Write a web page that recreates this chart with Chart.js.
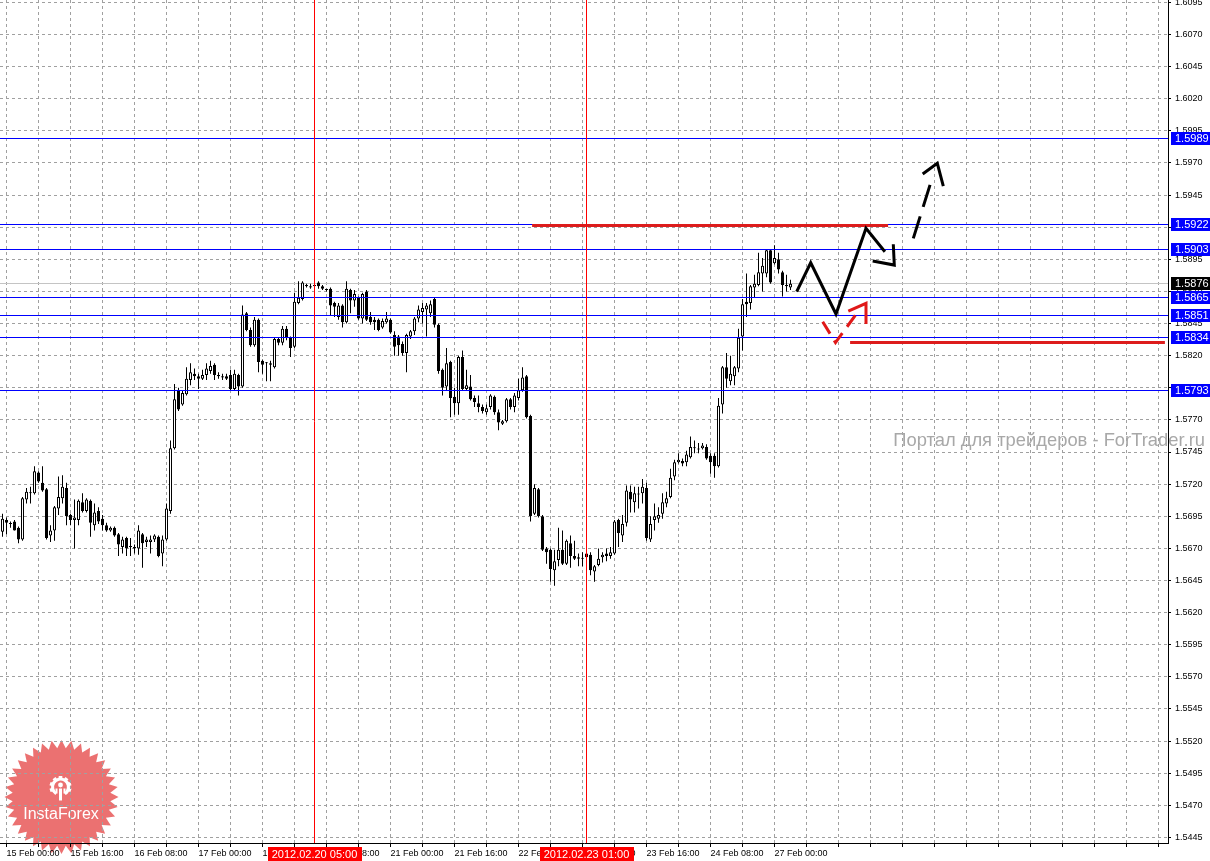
<!DOCTYPE html>
<html>
<head>
<meta charset="utf-8">
<script src="https://cdn.jsdelivr.net/npm/chart.js@4/dist/chart.umd.min.js"></script>
<style>
html,body{margin:0;padding:0;background:#fff;overflow:hidden}
canvas{display:block}
</style>
</head>
<body>
<canvas id="c" width="1210" height="861"></canvas>
<script>
// ---------------- DATA ----------------
// H1 bars, bar index 0 = 15 Feb 00:00 (weekend hours skipped); first bar is index -1
const firstBar = -1;
const openP = [
1.5683,1.5692,1.5689,1.5691,1.5686,1.5677,1.5708,1.5713,1.5713,1.5729,
1.5721,1.5716,1.5680,1.5684,1.5701,1.5709,1.5717,1.5696,1.5692,1.5692,
1.5706,1.5699,1.5707,1.5688,1.5699,1.5693,1.5688,1.5684,1.5686,1.5681,
1.5671,1.5678,1.5671,1.5671,1.5670,1.5681,1.5675,1.5675,1.5677,1.5679,
1.5666,1.5677,1.5699,1.5748,1.5793,1.5782,1.5790,1.5801,1.5806,1.5804,
1.5802,1.5805,1.5808,1.5813,1.5805,1.5804,1.5804,1.5805,1.5794,1.5805,
1.5796,1.5853,1.5840,1.5828,1.5848,1.5816,1.5814,1.5814,1.5811,1.5833,
1.5830,1.5841,1.5834,1.5827,1.5861,1.5864,1.5874,1.5874,1.5874,1.5877,
1.5874,1.5871,1.5872,1.5861,1.5850,1.5859,1.5846,1.5871,1.5863,1.5865,
1.5849,1.5870,1.5850,1.5848,1.5848,1.5842,1.5846,1.5848,1.5836,1.5835,
1.5829,1.5822,1.5835,1.5839,1.5849,1.5854,1.5856,1.5853,1.5864,1.5844,
1.5809,1.5796,1.5815,1.5788,1.5783,1.5819,1.5794,1.5796,1.5787,1.5783,
1.5780,1.5776,1.5780,1.5788,1.5776,1.5767,1.5769,1.5786,1.5780,1.5787,
1.5793,1.5804,1.5773,1.5697,1.5716,1.5695,1.5670,1.5669,1.5653,1.5661,
1.5669,1.5658,1.5674,1.5664,1.5662,1.5662,1.5663,1.5665,1.5652,1.5657,
1.5663,1.5666,1.5664,1.5666,1.5692,1.5680,1.5690,1.5714,1.5706,1.5712,
1.5713,1.5717,1.5677,1.5692,1.5693,1.5697,1.5705,1.5710,1.5726,1.5737,
1.5738,1.5737,1.5741,1.5748,1.5747,1.5748,1.5749,1.5742,1.5742,1.5734,
1.5782,1.5811,1.5800,1.5804,1.5810,1.5835,1.5862,1.5861,1.5873,1.5875,
1.5884,1.5884,1.5902,1.5892,1.5895,1.5885,1.5875,1.5873];
const highP = [
1.5697,1.5694,1.5691,1.5692,1.5687,1.5710,1.5717,1.5718,1.5734,1.5730,
1.5734,1.5717,1.5688,1.5703,1.5726,1.5727,1.5721,1.5697,1.5708,1.5708,
1.5713,1.5709,1.5708,1.5705,1.5702,1.5696,1.5690,1.5687,1.5687,1.5682,
1.5679,1.5679,1.5678,1.5673,1.5688,1.5682,1.5679,1.5680,1.5681,1.5680,
1.5680,1.5705,1.5754,1.5798,1.5795,1.5793,1.5811,1.5814,1.5810,1.5806,
1.5809,1.5814,1.5816,1.5814,1.5807,1.5806,1.5806,1.5809,1.5809,1.5806,
1.5859,1.5854,1.5842,1.5850,1.5849,1.5817,1.5815,1.5816,1.5834,1.5834,
1.5843,1.5843,1.5835,1.5869,1.5878,1.5878,1.5876,1.5876,1.5877,1.5878,
1.5875,1.5872,1.5873,1.5862,1.5861,1.5860,1.5878,1.5872,1.5871,1.5866,
1.5869,1.5871,1.5854,1.5850,1.5849,1.5849,1.5854,1.5849,1.5839,1.5836,
1.5831,1.5837,1.5840,1.5850,1.5859,1.5861,1.5861,1.5863,1.5865,1.5845,
1.5810,1.5826,1.5816,1.5795,1.5820,1.5824,1.5809,1.5805,1.5789,1.5789,
1.5782,1.5782,1.5790,1.5789,1.5778,1.5770,1.5787,1.5787,1.5791,1.5802,
1.5811,1.5805,1.5774,1.5720,1.5717,1.5696,1.5671,1.5670,1.5669,1.5686,
1.5684,1.5677,1.5680,1.5676,1.5666,1.5667,1.5669,1.5667,1.5657,1.5670,
1.5667,1.5670,1.5671,1.5692,1.5693,1.5696,1.5719,1.5719,1.5718,1.5718,
1.5724,1.5721,1.5695,1.5705,1.5702,1.5713,1.5714,1.5732,1.5739,1.5744,
1.5740,1.5746,1.5757,1.5754,1.5752,1.5752,1.5751,1.5744,1.5744,1.5787,
1.5812,1.5822,1.5820,1.5812,1.5841,1.5864,1.5884,1.5875,1.5883,1.5900,
1.5896,1.5903,1.5903,1.5906,1.5900,1.5886,1.5883,1.5879];
const lowP = [
1.5679,1.5681,1.5686,1.5684,1.5674,1.5676,1.5705,1.5705,1.5712,1.5721,
1.5714,1.5677,1.5675,1.5676,1.5696,1.5705,1.5688,1.5688,1.5670,1.5688,
1.5698,1.5698,1.5679,1.5684,1.5689,1.5684,1.5683,1.5683,1.5679,1.5664,
1.5666,1.5664,1.5664,1.5666,1.5665,1.5655,1.5671,1.5666,1.5675,1.5663,
1.5656,1.5676,1.5697,1.5747,1.5777,1.5781,1.5789,1.5797,1.5801,1.5794,
1.5801,1.5801,1.5806,1.5801,1.5802,1.5801,1.5801,1.5793,1.5793,1.5789,
1.5795,1.5839,1.5827,1.5827,1.5807,1.5806,1.5800,1.5800,1.5810,1.5828,
1.5828,1.5832,1.5819,1.5826,1.5860,1.5863,1.5873,1.5872,1.5873,1.5872,
1.5871,1.5870,1.5851,1.5850,1.5848,1.5842,1.5845,1.5853,1.5858,1.5848,
1.5845,1.5847,1.5844,1.5840,1.5839,1.5841,1.5845,1.5837,1.5820,1.5820,
1.5820,1.5807,1.5833,1.5836,1.5846,1.5845,1.5835,1.5850,1.5842,1.5806,
1.5789,1.5793,1.5772,1.5774,1.5774,1.5793,1.5793,1.5785,1.5780,1.5776,
1.5775,1.5774,1.5778,1.5774,1.5762,1.5766,1.5768,1.5778,1.5776,1.5785,
1.5792,1.5771,1.5691,1.5696,1.5694,1.5668,1.5658,1.5644,1.5641,1.5656,
1.5657,1.5657,1.5655,1.5661,1.5656,1.5656,1.5661,1.5649,1.5644,1.5656,
1.5659,1.5660,1.5662,1.5665,1.5671,1.5675,1.5687,1.5698,1.5698,1.5701,
1.5705,1.5676,1.5675,1.5684,1.5690,1.5693,1.5702,1.5709,1.5723,1.5736,
1.5734,1.5734,1.5740,1.5744,1.5744,1.5747,1.5739,1.5728,1.5725,1.5733,
1.5775,1.5795,1.5797,1.5797,1.5807,1.5824,1.5850,1.5856,1.5865,1.5874,
1.5870,1.5881,1.5876,1.5891,1.5884,1.5866,1.5870,1.5871];
const closeP = [
1.5693,1.5690,1.5689,1.5684,1.5677,1.5709,1.5714,1.5713,1.5730,1.5722,
1.5715,1.5678,1.5684,1.5702,1.5710,1.5718,1.5695,1.5692,1.5694,1.5707,
1.5699,1.5708,1.5690,1.5698,1.5691,1.5688,1.5684,1.5686,1.5680,1.5673,
1.5677,1.5670,1.5671,1.5670,1.5684,1.5674,1.5677,1.5677,1.5680,1.5664,
1.5677,1.5701,1.5748,1.5786,1.5778,1.5791,1.5802,1.5807,1.5804,1.5802,
1.5805,1.5810,1.5812,1.5805,1.5804,1.5803,1.5802,1.5794,1.5806,1.5796,
1.5852,1.5840,1.5828,1.5848,1.5815,1.5813,1.5814,1.5813,1.5833,1.5830,
1.5841,1.5834,1.5826,1.5862,1.5865,1.5877,1.5875,1.5873,1.5875,1.5874,
1.5872,1.5871,1.5859,1.5858,1.5859,1.5846,1.5872,1.5863,1.5868,1.5849,
1.5868,1.5848,1.5846,1.5846,1.5840,1.5847,1.5849,1.5838,1.5827,1.5828,
1.5822,1.5836,1.5839,1.5849,1.5856,1.5857,1.5859,1.5860,1.5844,1.5808,
1.5795,1.5814,1.5787,1.5783,1.5819,1.5794,1.5797,1.5786,1.5784,1.5780,
1.5777,1.5779,1.5789,1.5776,1.5768,1.5769,1.5786,1.5780,1.5789,1.5793,
1.5803,1.5772,1.5695,1.5717,1.5695,1.5669,1.5667,1.5654,1.5660,1.5669,
1.5658,1.5676,1.5664,1.5662,1.5663,1.5662,1.5666,1.5653,1.5656,1.5662,
1.5665,1.5664,1.5667,1.5691,1.5682,1.5689,1.5715,1.5708,1.5713,1.5712,
1.5718,1.5678,1.5689,1.5695,1.5696,1.5706,1.5709,1.5725,1.5737,1.5739,
1.5736,1.5743,1.5749,1.5748,1.5747,1.5750,1.5740,1.5737,1.5734,1.5781,
1.5811,1.5802,1.5806,1.5811,1.5834,1.5860,1.5860,1.5874,1.5876,1.5885,
1.5890,1.5902,1.5877,1.5896,1.5887,1.5875,1.5874,1.5876];

// axis ticks / labels
const yTicks = [1.5445,1.5470,1.5495,1.5520,1.5545,1.5570,1.5595,1.5620,1.5645,1.5670,1.5695,1.5720,1.5745,
  1.5770,1.5795,1.5820,1.5845,1.5870,1.5895,1.5920,1.5945,1.5970,1.5995,1.6020,1.6045,1.6070,1.6095];
const xGridBars = [0,8,16,24,32,40,48,56,64,72,80,88,96,104,112,120,128,136,144,152,160,168,176,184,192,
  200,208,216,224,232,240,248,256,264,272,280,288];
const xLabelBars = [0,16,32,48,64,80,96,112,128,144,160,176,192];
const xLabelText = ['15 Feb 00:00','15 Feb 16:00','16 Feb 08:00','17 Feb 00:00','17 Feb 16:00','20 Feb 08:00',
  '21 Feb 00:00','21 Feb 16:00','22 Feb 08:00','23 Feb 00:00','23 Feb 16:00','24 Feb 08:00','27 Feb 00:00'];

// horizontal levels (blue), bid price
const levels = [1.5989, 1.5922, 1.5903, 1.5865, 1.5851, 1.5834, 1.5793];
const bidPrice = 1.5876;

// vertical time markers
const markerBars = [77, 145];
const markerText = ['2012.02.20 05:00', '2012.02.23 01:00'];

// thick red resistance / support segments
const redSeg1X = [131.4, 220.4], redSeg1Y = [1.5921, 1.5921];
const redSeg2X = [210.9, 289.6], redSeg2Y = [1.5830, 1.5830];

// forecast paths (bar index, price)
const zigX = [197.55, 201.05, 207.375, 214.875, 219.6];
const zigY = [1.58698, 1.58923, 1.58524, 1.59191, 1.59009];
const zigHeadX = [216.55, 221.95, 221.7];
const zigHeadY = [1.58937, 1.58905, 1.59067];
const upX = [226.7, 231.5];
const upY = [1.59113, 1.59590];
const upHeadX = [229.05, 232.7, 234.2];
const upHeadY = [1.59614, 1.59697, 1.59520];
const redVX = [204.05, 207.25, 213.375];
const redVY = [1.58464, 1.58302, 1.58563];
const redHeadX = [210.45, 214.875, 214.875];
const redHeadY = [1.58547, 1.58607, 1.58446];

// ---------------- CHART ----------------
const Y_MIN = 1.54407, Y_MAX = 1.60968;
const X_MIN = -1.625, X_MAX = 290.375;

const idx = openP.map((_, k) => firstBar + k);
const bodies = idx.map((x, k) => ({x, y: [openP[k], closeP[k]]}));
const wicks = idx.map((x, k) => ({x, y: [lowP[k], highP[k]]}));
const bodyFill = idx.map((_, k) => closeP[k] > openP[k] ? '#ffffff' : '#000000');

const pts = (xs, ys) => xs.map((x, k) => ({x, y: ys[k]}));
function lineDs(data, color, width, dash) {
  return {type: 'line', data, borderColor: color, borderWidth: width, borderDash: dash || [],
    pointRadius: 0, pointHoverRadius: 0, pointHitRadius: 0, fill: false, tension: 0, order: 0,
    borderCapStyle: 'butt', borderJoinStyle: 'miter'};
}
function hLine(xs, v, color, width) {
  return Object.assign(lineDs(pts(xs, [v, v]), color, width), {snapY: v});
}

const datasets = [];
// annotations (on top)
datasets.push(lineDs(pts(zigX, zigY), '#000000', 3));
datasets.push(lineDs(pts(zigHeadX, zigHeadY), '#000000', 3));
datasets.push(lineDs(pts(upX, upY), '#000000', 3, [23, 10]));
datasets.push(lineDs(pts(upHeadX, upHeadY), '#000000', 3));
datasets.push(lineDs(pts(redVX, redVY), '#e01818', 3, [14, 8]));
datasets.push(lineDs(pts(redHeadX, redHeadY), '#e01818', 3));
datasets.push(hLine(redSeg1X, redSeg1Y[0], '#dd1c1c', 3));
datasets.push(hLine(redSeg2X, redSeg2Y[0], '#dd1c1c', 3));
markerBars.forEach(b => datasets.push(lineDs(pts([b, b], [Y_MIN, Y_MAX]), '#ff0000', 1)));
levels.forEach(v => datasets.push(hLine([X_MIN, X_MAX], v, '#0000ff', 1)));
datasets.push(Object.assign(hLine([X_MIN, X_MAX], bidPrice, '#c4c4c4', 1), {order: 3}));
// candles
datasets.push({type: 'bar', data: bodies, backgroundColor: bodyFill, borderColor: '#000000', borderWidth: 1,
  borderSkipped: false, barThickness: 3, minBarLength: 1, grouped: false, inflateAmount: 0, order: 1});
datasets.push({type: 'bar', data: wicks, backgroundColor: '#000000', borderWidth: 0,
  barThickness: 1, minBarLength: 1, grouped: false, inflateAmount: 0, order: 2});

const FONT = 'Liberation Sans, Arial, sans-serif';

function drawLogo(c) {
  const cx = 61.5, cy = 797, R = 57, r = 49, n = 36;
  c.beginPath();
  for (let k = 0; k < 2 * n; k++) {
    const a = -Math.PI / 2 + k * Math.PI / n;
    const rr = (k % 2) ? r : R;
    c.lineTo(cx + rr * Math.cos(a), cy + rr * Math.sin(a));
  }
  c.closePath();
  c.fillStyle = 'rgba(228,64,64,0.74)';
  c.fill();
  // gear
  const gx = 60.5, gy = 787;
  c.fillStyle = '#ffffff';
  for (let k = 0; k < 10; k++) {
    const a = k * Math.PI / 5 + Math.PI / 10;
    if (Math.abs(Math.sin(a) - 1) < 0.2) continue;
    c.save(); c.translate(gx, gy); c.rotate(a);
    c.fillRect(7.5, -1.8, 3.5, 3.6);
    c.restore();
  }
  c.strokeStyle = '#ffffff'; c.lineWidth = 3.2;
  c.beginPath(); c.arc(gx, gy, 8, Math.PI * 0.68, Math.PI * 2.32); c.stroke();
  c.beginPath(); c.arc(gx, gy - 2, 2.4, 0, Math.PI * 2); c.fill();
  c.fillRect(gx - 1.5, gy + 1.5, 3, 12);
  c.fillRect(gx - 5, gy + 1.5, 2, 5);
  c.fillRect(gx + 3, gy + 1.5, 2, 5);
  c.font = '16px ' + FONT;
  c.textAlign = 'center'; c.textBaseline = 'alphabetic';
  c.fillText('InstaForex', 61, 819);
}

const overlay = {
  id: 'overlay',
  beforeDraw(chart) {
    const c = chart.ctx;
    c.save();
    c.fillStyle = '#ffffff';
    c.fillRect(0, 0, chart.width, chart.height);
    drawLogo(c);
    c.restore();
  },
  // keep thin horizontal lines on whole pixels
  beforeDatasetDraw(chart, args) {
    const ds = chart.data.datasets[args.index];
    if (ds.snapY !== undefined) {
      const y = chart.scales.y.getPixelForValue(ds.snapY);
      chart.ctx.save();
      chart.ctx.translate(0, Math.floor(y) + 0.5 - y);
      ds._snap = true;
    }
  },
  afterDatasetDraw(chart, args) {
    const ds = chart.data.datasets[args.index];
    if (ds._snap) { chart.ctx.restore(); ds._snap = false; }
  },
  afterDraw(chart) {
    const c = chart.ctx, xs = chart.scales.x, ys = chart.scales.y;
    c.save();
    // watermark
    const wm = 'Портал для трейдеров - ForTrader.ru';
    let fs = 16;
    c.font = fs + 'px ' + FONT;
    const w = c.measureText(wm).width;
    fs = fs * 312 / w;
    c.font = fs.toFixed(2) + 'px ' + FONT;
    c.fillStyle = '#a8a8a8';
    c.textAlign = 'right'; c.textBaseline = 'alphabetic';
    c.fillText(wm, 1205, 446);
    // price tags
    const tag = (v, bg) => {
      const y = Math.floor(ys.getPixelForValue(v));
      c.fillStyle = bg;
      c.fillRect(1171, y - 6, 39, 13);
      c.fillStyle = '#ffffff';
      c.font = '11px ' + FONT;
      c.textAlign = 'left'; c.textBaseline = 'middle';
      c.fillText(v.toFixed(4), 1175, y + 1);
    };
    levels.forEach(v => tag(v, '#0000ff'));
    tag(bidPrice, '#000000');
    // time markers
    markerBars.forEach((b, k) => {
      const x = xs.getPixelForValue(b);
      c.font = '11px ' + FONT;
      const tw = c.measureText(markerText[k]).width + 8;
      c.fillStyle = '#ff0000';
      c.fillRect(Math.round(x - tw / 2), 847, Math.round(tw), 14);
      c.fillStyle = '#ffffff';
      c.textAlign = 'center'; c.textBaseline = 'middle';
      c.fillText(markerText[k], x, 855);
    });
    c.restore();
  }
};

new Chart(document.getElementById('c'), {
  type: 'bar',
  data: {datasets},
  options: {
    responsive: false,
    animation: false,
    devicePixelRatio: 1,
    events: [],
    layout: {padding: 0, autoPadding: false},
    plugins: {legend: {display: false}, tooltip: {enabled: false}},
    scales: {
      x: {
        type: 'linear', min: X_MIN, max: X_MAX, offset: false,
        afterBuildTicks: s => { s.ticks = xGridBars.map(v => ({value: v})); },
        afterFit: s => { s.height = 18; s.paddingLeft = 0; s.paddingRight = 0; s.paddingTop = 0; s.paddingBottom = 0; },
        grid: {color: '#a0a0a0', lineWidth: 1, offset: false, drawTicks: true, tickLength: 4, tickColor: '#000000'},
        border: {display: true, color: '#000000', width: 1, dash: [3, 3]},
        ticks: {
          autoSkip: false, maxRotation: 0, minRotation: 0, align: 'start', padding: 1,
          color: '#000000', font: {family: FONT, size: 9},
          callback: v => { const k = xLabelBars.indexOf(v); return k >= 0 ? xLabelText[k] : ''; }
        }
      },
      y: {
        type: 'linear', position: 'right', min: Y_MIN, max: Y_MAX,
        afterBuildTicks: s => { s.ticks = yTicks.map(v => ({value: v})); },
        afterFit: s => { s.width = 42; s.paddingTop = 0; s.paddingBottom = 0; s.paddingLeft = 0; s.paddingRight = 0; },
        grid: {color: '#a0a0a0', lineWidth: 1, drawTicks: true, tickLength: 3, tickColor: '#000000'},
        border: {display: true, color: '#000000', width: 1, dash: [3, 3]},
        ticks: {
          autoSkip: false, padding: 4, color: '#000000', font: {family: FONT, size: 9},
          callback: v => v.toFixed(4)
        }
      }
    }
  },
  plugins: [overlay]
});
</script>
</body>
</html>
